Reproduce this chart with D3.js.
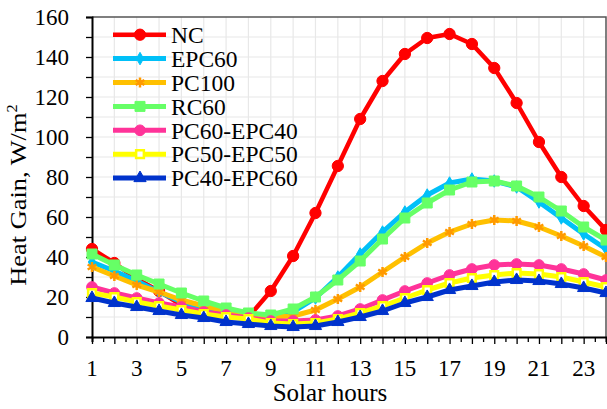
<!DOCTYPE html>
<html>
<head>
<meta charset="utf-8">
<script src="https://cdn.jsdelivr.net/npm/d3@7"></script>
<style>
  body { margin: 0; background: #fff; }
  svg { display: block; font-family: "Liberation Serif", "Times New Roman", serif; }
</style>
</head>
<body>
<div id="vis"></div>
<script>
// frame
const FRAME_WIDTH = 607;
const FRAME_HEIGHT = 409;
const MARGINS = {left: 92, right: 1, top: 17, bottom: 72};

// data
const hours = [1, 2, 3, 4, 5, 6, 7, 8, 9, 10, 11, 12, 13, 14, 15, 16, 17, 18, 19, 20, 21, 22, 23, 24];
const xTicks = [1, 3, 5, 7, 9, 11, 13, 15, 17, 19, 21, 23];
const yTicks = [0, 20, 40, 60, 80, 100, 120, 140, 160];

const nc        = [44, 37, 29, 23, 16, 12.5, 10.5, 10, 23, 40.5, 62, 85.5, 109, 128, 141.5, 149.5, 151.5, 146.5, 134.5, 117, 97.5, 80, 65.5, 53.5];
const epc60     = [37.5, 33, 28, 22.5, 17.5, 14, 11.5, 10, 10, 12.5, 19.5, 30, 41.5, 52.5, 62.5, 71, 77, 79, 78, 75, 67.5, 59.5, 51.5, 44];
const pc100     = [35, 30.5, 26, 22.5, 18.5, 15.5, 13, 11, 10, 10.5, 13.5, 19, 25, 32.5, 40, 47, 52.5, 56.5, 58.5, 58, 55, 50.5, 45.5, 40];
const rc60      = [41.5, 36, 31, 26.5, 22, 18, 14.5, 12, 11, 14, 20, 28.5, 38, 49, 59.5, 67, 73.5, 77.5, 78, 75.5, 70, 63, 55, 48.5];
const pc60epc40 = [25, 22, 19.5, 17, 15, 12.5, 11, 9.5, 8, 8, 8.5, 10.5, 14, 18.5, 23, 27, 31, 34, 36, 36.5, 36, 34, 31.5, 28.5];
const pc50epc50 = [22, 20, 17.5, 15.5, 13.5, 11.5, 10, 9, 7, 6.5, 7, 9, 12, 15.5, 19.5, 23.5, 27, 29.5, 31, 32, 31.5, 30, 27.5, 25];
const pc40epc60 = [19.5, 17, 15, 13, 11, 9.5, 7.5, 6.5, 5.5, 5, 5.5, 7.5, 10, 13, 17, 20, 23.5, 25.5, 27.5, 28.5, 28, 26.5, 24.5, 22];

const seriesNames = ["NC", "EPC60", "PC100", "RC60", "PC60-EPC40", "PC50-EPC50", "PC40-EPC60"];
const seriesValues = [nc, epc60, pc100, rc60, pc60epc40, pc50epc50, pc40epc60];

// styles per series
const styles = [
  {line: "#ff0000", mark: "#ff0000", fill: "#ff0000", sym: d3.symbolCircle, size: 100, lw: 4.5},
  {line: "#00c0f8", mark: "#00c0f8", fill: "#00c0f8", sym: d3.symbolDiamond, size: 45, lw: 5},
  {line: "#ffc000", mark: "#ff9900", fill: "none", sym: d3.symbolAsterisk, size: 70, lw: 5},
  {line: "#66ff66", mark: "#66ff66", fill: "#66ff66", sym: d3.symbolSquare, size: 100, lw: 5},
  {line: "#ff3399", mark: "#ff3399", fill: "#ff3399", sym: d3.symbolCircle, size: 90, lw: 5},
  {line: "#ffff00", mark: "#ffff00", fill: "#ffffff", sym: d3.symbolSquare, size: 60, lw: 5},
  {line: "#0033cc", mark: "#0033cc", fill: "#0033cc", sym: d3.symbolTriangle, size: 65, lw: 5}
];

const VIS_WIDTH = FRAME_WIDTH - MARGINS.left - MARGINS.right;
const VIS_HEIGHT = FRAME_HEIGHT - MARGINS.top - MARGINS.bottom;

const svg = d3.select("#vis")
  .append("svg")
    .attr("width", FRAME_WIDTH)
    .attr("height", FRAME_HEIGHT);

const X_SCALE = d3.scaleLinear().domain([1, 24]).range([MARGINS.left, MARGINS.left + VIS_WIDTH]);
const Y_SCALE = d3.scaleLinear().domain([0, 160]).range([MARGINS.top + VIS_HEIGHT, MARGINS.top]);

// grid
const grid = svg.append("g").attr("stroke", "#e8e8e8").attr("stroke-width", 1.2);
grid.selectAll("line.v")
  .data(hours.slice(1, -1))
  .enter().append("line")
    .attr("x1", d => X_SCALE(d)).attr("x2", d => X_SCALE(d))
    .attr("y1", Y_SCALE(0)).attr("y2", Y_SCALE(160));
grid.selectAll("line.h")
  .data(d3.range(10, 160, 10))
  .enter().append("line")
    .attr("y1", d => Y_SCALE(d)).attr("y2", d => Y_SCALE(d))
    .attr("x1", X_SCALE(1)).attr("x2", X_SCALE(24));

// top / right border
svg.append("path")
  .attr("d", `M${X_SCALE(1)},${Y_SCALE(160)}H${X_SCALE(24)}V${Y_SCALE(0)}`)
  .attr("fill", "none").attr("stroke", "#555").attr("stroke-width", 1.5);

// axes
const xAxis = svg.append("g")
  .attr("transform", `translate(0,${Y_SCALE(0)})`)
  .call(d3.axisBottom(X_SCALE).tickValues(d3.range(1, 24.01, 0.5)).tickSize(5).tickFormat(""));
xAxis.selectAll(".tick line")
  .attr("y2", d => Number.isInteger(d) ? 7 : 5)
  .attr("stroke-width", 1.3);
xAxis.select(".domain").attr("stroke-width", 2);
svg.append("g").selectAll("text")
  .data(xTicks)
  .enter().append("text")
    .attr("x", d => X_SCALE(d))
    .attr("y", 376)
    .attr("text-anchor", "middle")
    .attr("font-size", 23)
    .text(d => d);

const yAxis = svg.append("g")
  .attr("transform", `translate(${X_SCALE(1)},0)`)
  .call(d3.axisLeft(Y_SCALE).tickValues(d3.range(0, 161, 10)).tickSize(6).tickFormat(""));
yAxis.selectAll(".tick line").attr("stroke-width", 1.3);
yAxis.select(".domain").attr("stroke-width", 2);
svg.append("g").selectAll("text")
  .data(yTicks)
  .enter().append("text")
    .attr("x", 69)
    .attr("y", d => Y_SCALE(d))
    .attr("dy", "0.35em")
    .attr("text-anchor", "end")
    .attr("font-size", 23)
    .text(d => d);

// axis titles
svg.append("text")
  .attr("x", 330).attr("y", 401)
  .attr("text-anchor", "middle")
  .attr("font-size", 25)
  .text("Solar hours");

const yTitle = svg.append("text")
  .attr("transform", "translate(26,195) rotate(-90) scale(1.1,1)")
  .attr("text-anchor", "middle")
  .attr("font-size", 24);
yTitle.append("tspan").text("Heat Gain, W/m");
yTitle.append("tspan").attr("dy", -9).attr("font-size", 15).text("2");

// series
const line = d3.line().x((d, i) => X_SCALE(hours[i])).y(d => Y_SCALE(d));

function drawMarker(g, st, x, y) {
  g.append("path")
    .attr("d", d3.symbol().type(st.sym).size(st.size)())
    .attr("transform", `translate(${x},${y})`)
    .attr("fill", st.sym === d3.symbolAsterisk ? "none" : st.fill)
    .attr("stroke", st.mark)
    .attr("stroke-width", st.sym === d3.symbolAsterisk ? 2.5 : (st.fill === "#ffffff" ? 2.5 : 1));
}

seriesValues.forEach((vals, k) => {
  const st = styles[k];
  const g = svg.append("g");
  g.append("path")
    .datum(vals)
    .attr("d", line)
    .attr("fill", "none")
    .attr("stroke", st.line)
    .attr("stroke-width", st.lw)
    .attr("stroke-linejoin", "round");
  vals.forEach((v, i) => drawMarker(g, st, X_SCALE(hours[i]), Y_SCALE(v)));
});

// legend
const legend = svg.append("g");
seriesNames.forEach((name, k) => {
  const st = styles[k];
  const y = 34.7 + k * 23.9;
  const g = legend.append("g");
  g.append("line")
    .attr("x1", 113).attr("x2", 166)
    .attr("y1", y).attr("y2", y)
    .attr("stroke", st.line).attr("stroke-width", st.lw);
  drawMarker(g, st, 140, y);
  g.append("text")
    .attr("x", 171).attr("y", y)
    .attr("dy", "0.35em")
    .attr("font-size", 23.5)
    .text(name);
});
</script>
</body>
</html>
